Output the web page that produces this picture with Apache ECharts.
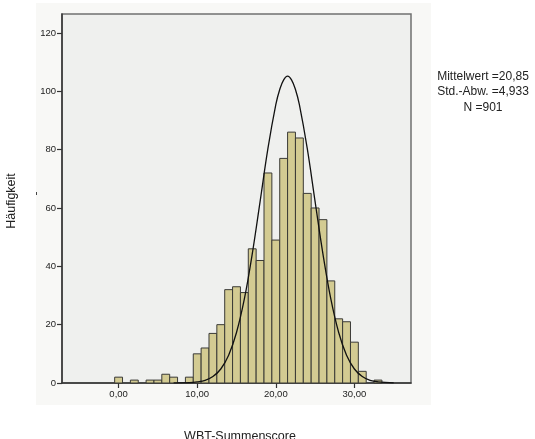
<!DOCTYPE html>
<html>
<head>
<meta charset="utf-8">
<script src="https://cdn.jsdelivr.net/npm/echarts@6/dist/echarts.min.js"></script>
<style>
  html, body { margin: 0; padding: 0; background: #ffffff; }
  #wrap { position: relative; width: 535px; height: 439px; }
  #panel { position: absolute; left: 36px; top: 3px; width: 395px; height: 402px; background: #f8f8f6; }
  #chart { position: absolute; left: 0; top: 0; width: 535px; height: 439px; }
</style>
</head>
<body>
<div id="wrap">
  <div id="panel"></div>
  <div id="chart"></div>
</div>
<script>
// histogram bins (centre of each bin, width 1) and their counts
const binCenters = [0, 1, 2, 3, 4, 5, 6, 7, 8, 9, 10, 11, 12, 13, 14, 15, 16, 17, 18, 19, 20, 21, 22, 23, 24, 25, 26, 27, 28, 29, 30, 31, 32, 33]
const binCounts = [2, 0, 1, 0, 1, 1, 3, 2, 0, 2, 10, 12, 17, 20, 32, 33, 31, 46, 42, 72, 49, 77, 86, 84, 65, 60, 56, 35, 22, 21, 14, 4, 0, 1]
const binWidth = 1

// normal curve
const curveX = [7, 9, 10, 11, 12, 13, 14, 15, 16, 17, 18, 19, 20, 20.5, 21, 21.5, 22, 22.5, 23, 24, 25, 26, 27, 28, 29, 30, 31, 32, 33, 35]
const curveY = [0.05, 0.15, 0.4, 0.9, 2.2, 4.8, 9.5, 17.3, 28.8, 44.2, 62.2, 80.4, 95.4, 100.6, 103.9, 105.2, 103.9, 100.6, 95.4, 80.4, 62.2, 44.2, 28.8, 17.3, 9.5, 4.8, 2.2, 0.9, 0.4, 0.05]

const xTicks = [0, 10, 20, 30]
const yTicks = [0, 20, 40, 60, 80, 100, 120]

const statLines = ['Mittelwert =20,85', 'Std.-Abw. =4,933', 'N =901']

const chart = echarts.init(document.getElementById('chart'), null, { renderer: 'canvas' })

const labelFont = { fontFamily: 'Liberation Sans, Arial, sans-serif', color: '#222', fontSize: 9.5 }

const option = {
  animation: false,
  grid: {
    left: 62,
    top: 14,
    right: 124,
    bottom: 56,
    show: true,
    backgroundColor: '#eff0ee',
    borderColor: '#707070',
    borderWidth: 1.5
  },
  xAxis: {
    type: 'value',
    min: -7.2,
    max: 37.2,
    axisLine: { show: true, onZero: false, lineStyle: { color: '#333', width: 1.5 } },
    axisTick: { show: true, length: 5, customValues: xTicks, lineStyle: { color: '#333', width: 1.2 } },
    axisLabel: {
      customValues: xTicks,
      margin: 6,
      ...labelFont,
      formatter: v => v.toFixed(2).replace('.', ',')
    },
    splitLine: { show: false }
  },
  yAxis: {
    type: 'value',
    min: 0,
    max: 126.5,
    axisLine: { show: true, onZero: false, lineStyle: { color: '#333', width: 1.5 } },
    axisTick: { show: true, length: 5, customValues: yTicks, lineStyle: { color: '#333', width: 1.2 } },
    axisLabel: { customValues: yTicks, margin: 6, ...labelFont },
    splitLine: { show: false }
  },
  series: [
    {
      type: 'custom',
      data: binCenters.map((c, i) => [c, binCounts[i]]),
      renderItem: (params, api) => {
        const x = api.value(0)
        const y = api.value(1)
        if (!y) return
        const p0 = api.coord([x - binWidth / 2, y])
        const p1 = api.coord([x + binWidth / 2, 0])
        return {
          type: 'rect',
          shape: { x: p0[0], y: p0[1], width: p1[0] - p0[0], height: p1[1] - p0[1] },
          style: { fill: '#d3cb92', stroke: '#3a3a36', lineWidth: 1 }
        }
      },
      z: 2
    },
    {
      type: 'line',
      data: curveX.map((x, i) => [x, curveY[i]]),
      smooth: 0.4,
      showSymbol: false,
      lineStyle: { color: '#111', width: 1.3 },
      z: 3
    }
  ],
  graphic: [
    {
      type: 'text',
      x: 12,
      y: 201,
      rotation: Math.PI / 2,
      style: {
        text: 'Häufigkeit',
        fontSize: 12.5,
        fontFamily: 'Liberation Sans, Arial, sans-serif',
        fill: '#222',
        align: 'center',
        verticalAlign: 'middle'
      }
    },
    {
      type: 'rect',
      shape: { x: 36, y: 192, width: 1, height: 3 },
      style: { fill: '#444' }
    },
    {
      type: 'text',
      x: 240,
      y: 437,
      style: {
        text: 'WBT-Summenscore',
        fontSize: 12.5,
        fontFamily: 'Liberation Sans, Arial, sans-serif',
        fill: '#222',
        align: 'center',
        verticalAlign: 'middle'
      }
    },
    ...statLines.map((t, i) => ({
      type: 'text',
      x: 483,
      y: [77, 92, 108][i],
      style: {
        text: t,
        fontSize: 12,
        fontFamily: 'Liberation Sans, Arial, sans-serif',
        fill: '#222',
        align: 'center',
        verticalAlign: 'middle'
      }
    }))
  ]
}

chart.setOption(option)
</script>
</body>
</html>
